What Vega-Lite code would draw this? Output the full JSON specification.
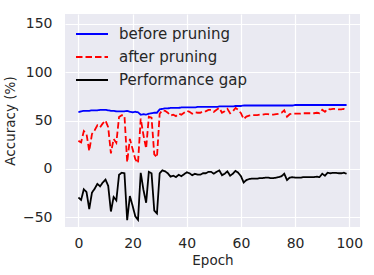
{
  "$schema": "https://vega.github.io/schema/vega-lite/v6.json",
  "width": 295,
  "height": 213,
  "autosize": "none",
  "padding": {"left": 65, "top": 14, "right": 14, "bottom": 48},
  "background": "white",
  "config": {
    "font": "DejaVu Sans",
    "view": {"fill": "#EAEAF2", "stroke": null},
    "axis": {
      "grid": true, "gridColor": "white", "gridWidth": 1.2, "gridOpacity": 1,
      "domain": false, "ticks": false,
      "labelFont": "DejaVu Sans", "labelFontSize": 14, "labelColor": "#262626",
      "titleFont": "DejaVu Sans", "titleFontSize": 13.5, "titleFontWeight": "normal", "titleColor": "#262626"
    },
    "legend": {
      "labelFont": "DejaVu Sans", "labelFontSize": 15, "labelColor": "#262626"
    }
  },
  "data": {"values": [
    {"epoch":0,"before":58.5,"after":29,"gap":-29.5},
    {"epoch":1,"before":59.5,"after":27.5,"gap":-32},
    {"epoch":2,"before":60,"after":39,"gap":-21},
    {"epoch":3,"before":60,"after":36,"gap":-24},
    {"epoch":4,"before":60,"after":18.5,"gap":-41.5},
    {"epoch":5,"before":60.5,"after":36,"gap":-24.5},
    {"epoch":6,"before":60.5,"after":40,"gap":-20.5},
    {"epoch":7,"before":60.5,"after":45,"gap":-15.5},
    {"epoch":8,"before":61,"after":43,"gap":-18},
    {"epoch":9,"before":61,"after":47,"gap":-14},
    {"epoch":10,"before":61,"after":50,"gap":-11},
    {"epoch":11,"before":60.5,"after":43,"gap":-17.5},
    {"epoch":12,"before":60,"after":16,"gap":-44},
    {"epoch":13,"before":60,"after":31,"gap":-29},
    {"epoch":14,"before":59.5,"after":27,"gap":-32.5},
    {"epoch":15,"before":59.5,"after":53.5,"gap":-6},
    {"epoch":16,"before":59.5,"after":55.5,"gap":-4},
    {"epoch":17,"before":59.5,"after":55,"gap":-4.5},
    {"epoch":18,"before":60,"after":7,"gap":-53},
    {"epoch":19,"before":59,"after":31,"gap":-28},
    {"epoch":20,"before":58.5,"after":20.5,"gap":-38},
    {"epoch":21,"before":59,"after":10,"gap":-49},
    {"epoch":22,"before":58.5,"after":6,"gap":-52.5},
    {"epoch":23,"before":56,"after":52,"gap":-4},
    {"epoch":24,"before":56.5,"after":35,"gap":-21.5},
    {"epoch":25,"before":56,"after":21,"gap":-35},
    {"epoch":26,"before":57,"after":54,"gap":-3},
    {"epoch":27,"before":57.5,"after":53,"gap":-4.5},
    {"epoch":28,"before":58,"after":15,"gap":-43},
    {"epoch":29,"before":58,"after":12,"gap":-46},
    {"epoch":30,"before":61.5,"after":57,"gap":-4.5},
    {"epoch":31,"before":62,"after":60.5,"gap":-1.5},
    {"epoch":32,"before":62.5,"after":60,"gap":-2.5},
    {"epoch":33,"before":62.5,"after":58,"gap":-4.5},
    {"epoch":34,"before":63,"after":55,"gap":-8},
    {"epoch":35,"before":63,"after":56,"gap":-7},
    {"epoch":36,"before":63,"after":54.5,"gap":-8.5},
    {"epoch":37,"before":63,"after":57,"gap":-6},
    {"epoch":38,"before":63.5,"after":56,"gap":-7.5},
    {"epoch":39,"before":63.5,"after":58,"gap":-5.5},
    {"epoch":40,"before":63.5,"after":60,"gap":-3.5},
    {"epoch":41,"before":63.5,"after":59,"gap":-4.5},
    {"epoch":42,"before":63.5,"after":57,"gap":-6.5},
    {"epoch":43,"before":63.5,"after":58.5,"gap":-5},
    {"epoch":44,"before":64,"after":58,"gap":-6},
    {"epoch":45,"before":64,"after":58,"gap":-6},
    {"epoch":46,"before":64,"after":59.5,"gap":-4.5},
    {"epoch":47,"before":64,"after":59.5,"gap":-4.5},
    {"epoch":48,"before":64,"after":61,"gap":-3},
    {"epoch":49,"before":64,"after":61,"gap":-3},
    {"epoch":50,"before":64,"after":59,"gap":-5},
    {"epoch":51,"before":64,"after":61,"gap":-3},
    {"epoch":52,"before":64.5,"after":63,"gap":-1.5},
    {"epoch":53,"before":64.5,"after":58,"gap":-6.5},
    {"epoch":54,"before":64.5,"after":59.5,"gap":-5},
    {"epoch":55,"before":64.5,"after":62,"gap":-2.5},
    {"epoch":56,"before":64.5,"after":57.5,"gap":-7},
    {"epoch":57,"before":64.5,"after":59.5,"gap":-5},
    {"epoch":58,"before":65,"after":63,"gap":-2},
    {"epoch":59,"before":65,"after":61,"gap":-4},
    {"epoch":60,"before":65,"after":57.5,"gap":-7.5},
    {"epoch":61,"before":65.5,"after":51.5,"gap":-14},
    {"epoch":62,"before":65.5,"after":54,"gap":-11.5},
    {"epoch":63,"before":65.5,"after":55,"gap":-10.5},
    {"epoch":64,"before":65.5,"after":55.5,"gap":-10},
    {"epoch":65,"before":65.5,"after":55.5,"gap":-10},
    {"epoch":66,"before":65.5,"after":55.5,"gap":-10},
    {"epoch":67,"before":65.5,"after":56,"gap":-9.5},
    {"epoch":68,"before":65.5,"after":56,"gap":-9.5},
    {"epoch":69,"before":65.5,"after":56.5,"gap":-9},
    {"epoch":70,"before":65.5,"after":56.5,"gap":-9},
    {"epoch":71,"before":65.5,"after":56,"gap":-9.5},
    {"epoch":72,"before":65.5,"after":56,"gap":-9.5},
    {"epoch":73,"before":65.5,"after":56.5,"gap":-9},
    {"epoch":74,"before":65.5,"after":57,"gap":-8.5},
    {"epoch":75,"before":65.5,"after":58,"gap":-7.5},
    {"epoch":76,"before":65.5,"after":60.5,"gap":-5},
    {"epoch":77,"before":65.5,"after":54,"gap":-11.5},
    {"epoch":78,"before":65.5,"after":56.5,"gap":-9},
    {"epoch":79,"before":65.5,"after":57,"gap":-8.5},
    {"epoch":80,"before":66,"after":57,"gap":-9},
    {"epoch":81,"before":66,"after":57,"gap":-9},
    {"epoch":82,"before":66,"after":57,"gap":-9},
    {"epoch":83,"before":66,"after":57.5,"gap":-8.5},
    {"epoch":84,"before":66,"after":57.5,"gap":-8.5},
    {"epoch":85,"before":66,"after":57.5,"gap":-8.5},
    {"epoch":86,"before":66,"after":57.5,"gap":-8.5},
    {"epoch":87,"before":66,"after":57.5,"gap":-8.5},
    {"epoch":88,"before":66,"after":58,"gap":-8},
    {"epoch":89,"before":66,"after":57.5,"gap":-8.5},
    {"epoch":90,"before":66,"after":61,"gap":-5},
    {"epoch":91,"before":66,"after":59,"gap":-7},
    {"epoch":92,"before":66,"after":62,"gap":-4},
    {"epoch":93,"before":66,"after":61.5,"gap":-4.5},
    {"epoch":94,"before":66,"after":62,"gap":-4},
    {"epoch":95,"before":66,"after":62,"gap":-4},
    {"epoch":96,"before":66,"after":61.5,"gap":-4.5},
    {"epoch":97,"before":66,"after":61.5,"gap":-4.5},
    {"epoch":98,"before":66,"after":62,"gap":-4},
    {"epoch":99,"before":66,"after":61,"gap":-5}
  ]},
  "transform": [
    {"fold": ["before", "after", "gap"], "as": ["key", "value"]},
    {"lookup": "key", "from": {"data": {"values": [
      {"key": "before", "series": "before pruning", "ord": 0},
      {"key": "after", "series": "after pruning", "ord": 1},
      {"key": "gap", "series": "Performance gap", "ord": 2}
    ]}, "key": "key", "fields": ["series", "ord"]}}
  ],
  "mark": {"type": "line", "strokeWidth": 1.8},
  "encoding": {
    "x": {
      "field": "epoch", "type": "quantitative",
      "scale": {"domain": [-4.95, 103.95], "nice": false, "zero": false},
      "axis": {"values": [0, 20, 40, 60, 80, 100], "title": "Epoch", "labelPadding": 9, "titlePadding": 3}
    },
    "y": {
      "field": "value", "type": "quantitative",
      "scale": {"domain": [-60, 160], "nice": false, "zero": false},
      "axis": {"values": [-50, 0, 50, 100, 150], "title": "Accuracy (%)", "labelPadding": 13, "titlePadding": 5}
    },
    "color": {
      "field": "series", "type": "nominal",
      "scale": {"domain": ["before pruning", "after pruning", "Performance gap"], "range": ["#0000FF", "#FF0000", "#000000"]},
      "legend": {
        "title": null, "orient": "none", "legendX": 16, "legendY": 9,
        "symbolType": "M-1.6,0H1.6", "symbolSize": 400, "symbolStrokeWidth": 1.8,
        "labelOffset": 16, "rowPadding": 4, "padding": 0
      }
    },
    "strokeDash": {
      "field": "series", "type": "nominal",
      "scale": {"domain": ["before pruning", "after pruning", "Performance gap"], "range": [[1, 0], [6.5, 3], [1, 0]]},
      "legend": {
        "title": null, "orient": "none", "legendX": 16, "legendY": 9,
        "symbolType": "M-1.6,0H1.6", "symbolSize": 400, "symbolStrokeWidth": 1.8,
        "labelOffset": 16, "rowPadding": 4, "padding": 0
      }
    },
    "order": {"field": "ord", "type": "quantitative"}
  }
}
